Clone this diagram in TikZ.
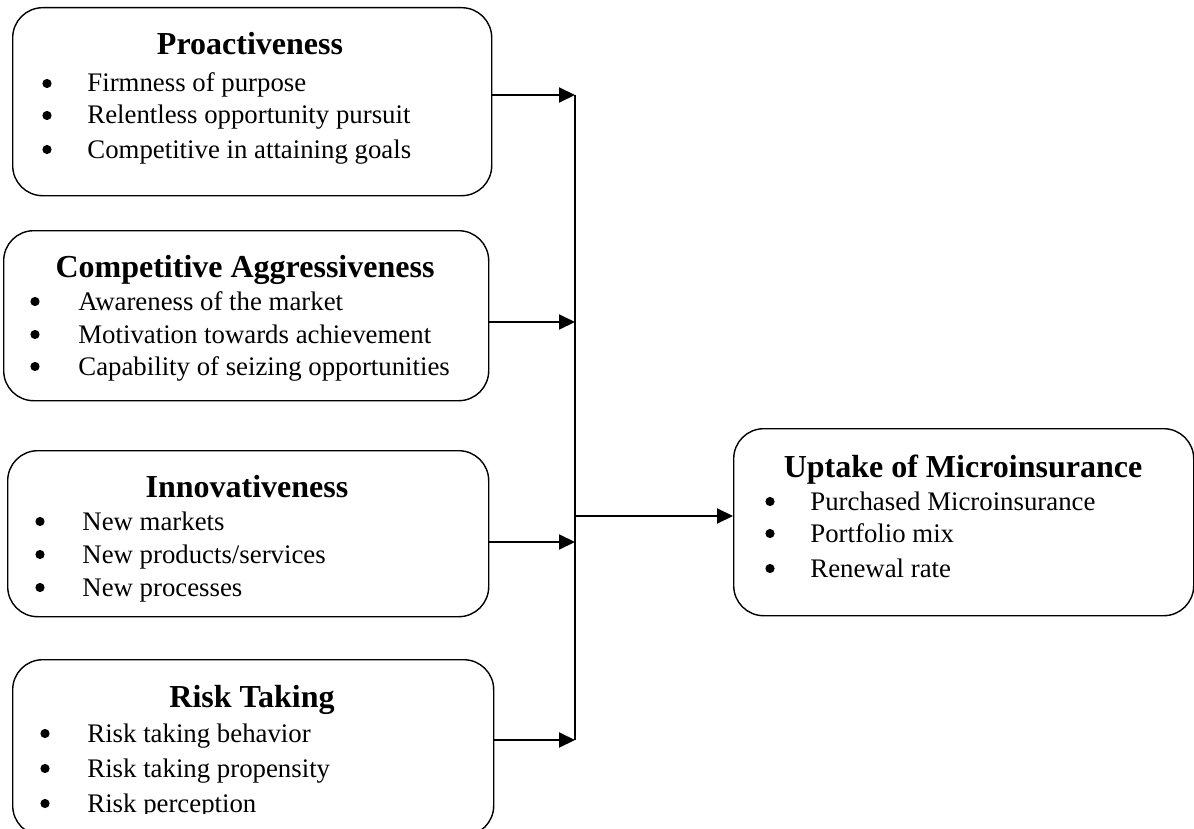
\documentclass[tikz,border=0pt]{standalone}
\usepackage{fontspec}
\setmainfont{Liberation Serif}
\usetikzlibrary{arrows.meta}
\begin{document}
\begin{tikzpicture}[x=0.5pt,y=-0.5pt,
  box/.style={draw, rounded corners=15pt, line width=0.7pt, inner sep=0pt, anchor=north west},
  ttl/.style={font=\fontsize{16}{19}\selectfont\bfseries, anchor=base, inner sep=0pt},
  itm/.style={font=\fontsize{13.4}{16}\selectfont, anchor=base west, inner sep=0pt},
  bul/.style={circle, fill, inner sep=0pt, minimum size=4.6pt},
  conn/.style={line width=1pt, -{Triangle[length=8pt,width=7.5pt]}},
  vline/.style={line width=0.65pt}]
\clip (0,0) rectangle (1194,829);
\fill[white] (0,0) rectangle (1194,829);
% boxes
\node[box, minimum width=239.5pt, minimum height=94pt] (b1) at (12,7) {};
\node[box, minimum width=242.5pt, minimum height=85pt] (b2) at (3,230) {};
\node[box, minimum width=240.5pt, minimum height=83pt] (b3) at (7,450) {};
\node[box, minimum width=240.5pt, minimum height=88pt] (b4) at (12,659) {};
\node[box, minimum width=230pt, minimum height=93.5pt] (b5) at (733,428) {};
% box 1
\node[ttl] (t1) at (250,55) {Proactiveness};
\node[bul] (p11) at (47,83.5) {};
\node[itm] (i11) at (87,92) {Firmness of purpose};
\node[bul] (p12) at (47,115.5) {};
\node[itm] (i12) at (87,124) {Relentless opportunity pursuit};
\node[bul] (p13) at (47,149.5) {};
\node[itm] (i13) at (87,158) {Competitive in attaining goals};
% box 2
\node[ttl] (t2) at (245,277) {Competitive Aggressiveness};
\node[bul] (p21) at (35,301.5) {};
\node[itm] (i21) at (78,310) {Awareness of the market};
\node[bul] (p22) at (35,334.5) {};
\node[itm] (i22) at (78,343) {Motivation towards achievement};
\node[bul] (p23) at (35,366.5) {};
\node[itm] (i23) at (78,375) {Capability of seizing opportunities};
% box 3
\node[ttl] (t3) at (247,497) {Innovativeness};
\node[bul] (p31) at (40,521.5) {};
\node[itm] (i31) at (82,530) {New markets};
\node[bul] (p32) at (40,554.5) {};
\node[itm] (i32) at (82,563) {New products/services};
\node[bul] (p33) at (40,587.5) {};
\node[itm] (i33) at (82,596) {New processes};
% box 4
\node[ttl] (t4) at (252,707) {Risk Taking};
\node[bul] (p41) at (45,733.5) {};
\node[itm] (i41) at (87,742) {Risk taking behavior};
\node[bul] (p42) at (45,768.5) {};
\node[itm] (i42) at (87,777) {Risk taking propensity};
\node[bul] (p43) at (45,803.5) {};
\begin{scope}
\clip (0,0) rectangle (1194,813);
\node[itm] (i43) at (87,812) {Risk perception};
\end{scope}
% box 5
\node[ttl] (t5) at (963,477) {Uptake of Microinsurance};
\node[bul] (p51) at (770,501.5) {};
\node[itm] (i51) at (810,510) {Purchased Microinsurance};
\node[bul] (p52) at (770,533.5) {};
\node[itm] (i52) at (810,542) {Portfolio mix};
\node[bul] (p53) at (770,568.5) {};
\node[itm] (i53) at (810,577) {Renewal rate};
% connectors
\coordinate (j1) at (575,95);
\coordinate (j2) at (575,322);
\coordinate (j3) at (575,542);
\coordinate (j4) at (575,740);
\coordinate (jm) at (575,516);
\draw[vline] (j1) -- (j4);
\draw[conn] (b1.east |- j1) -- (j1);
\draw[conn] (b2.east |- j2) -- (j2);
\draw[conn] (b3.east |- j3) -- (j3);
\draw[conn] (b4.east |- j4) -- (j4);
\draw[conn] (jm) -- (b5.west |- jm);
\end{tikzpicture}
\end{document}
